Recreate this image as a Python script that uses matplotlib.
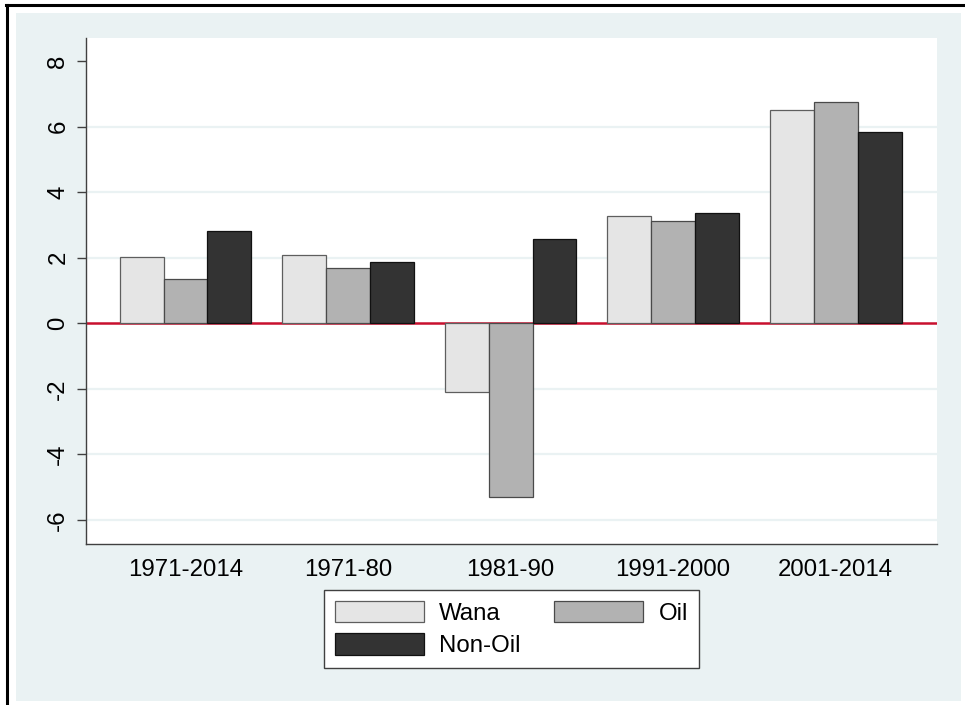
import numpy as np
import matplotlib
matplotlib.use("Agg")
import matplotlib.pyplot as plt
from matplotlib.patches import Rectangle
from matplotlib.lines import Line2D

# data
periods = ["1971-2014", "1971-80", "1981-90", "1991-2000", "2001-2014"]
wana = [2.02, 2.09, -2.09, 3.26, 6.49]
oil = [1.34, 1.68, -5.30, 3.11, 6.74]
non_oil = [2.82, 1.87, 2.56, 3.36, 5.82]
yticks = [-6, -4, -2, 0, 2, 4, 6, 8]
gridticks = [-6, -4, -2, 2, 4, 6]

W, H = 965, 705
plt.rcParams["font.family"] = ["Liberation Sans", "DejaVu Sans"]
fig = plt.figure(figsize=(W / 100, H / 100), dpi=100)
fig.patch.set_facecolor("white")

# light background panel + black frame lines (top and left)
fig.patches.append(Rectangle((16 / W, 1 - 701 / H), (961 - 16) / W, (701 - 13) / H,
                             transform=fig.transFigure, facecolor="#EAF2F3",
                             edgecolor="none", zorder=-5))
fig.lines.append(Line2D([6 / W, 1], [1 - 5 / H, 1 - 5 / H], transform=fig.transFigure,
                        color="black", lw=2.2))
fig.lines.append(Line2D([7 / W, 7 / W], [0, 1 - 5 / H], transform=fig.transFigure,
                        color="black", lw=2.2))

ax = fig.add_axes([86 / W, 1 - 544 / H, (936.5 - 86) / W, (544 - 38) / H])
ax.set_zorder(1)
ax.set_facecolor("white")

x = np.arange(len(periods))
bw = 0.27
b1 = ax.bar(x - bw, wana, bw, color="#E5E5E5", edgecolor="#5E5E5E", lw=0.9, label="Wana", zorder=3)
b2 = ax.bar(x, oil, bw, color="#B2B2B2", edgecolor="#4A4A4A", lw=0.9, label="Oil", zorder=3)
b3 = ax.bar(x + bw, non_oil, bw, color="#333333", edgecolor="#111111", lw=0.9, label="Non-Oil", zorder=3)

for g in gridticks:
    ax.axhline(g, color="#EAF2F3", lw=1.6, zorder=1)
ax.axhline(0, color="#C8102E", lw=1.8, zorder=2)

ax.set_xlim(-0.612, 4.62)
ax.set_ylim(-6.73, 8.70)
ax.set_yticks(yticks)
ax.set_yticklabels([str(t) for t in yticks], rotation=90, va="center")
ax.set_xticks(x)
ax.set_xticklabels(periods)
ax.tick_params(axis="y", length=6.5, width=1, color="#404040", labelsize=17.3, pad=5.5)
ax.tick_params(axis="x", length=0, labelsize=17.3, pad=11)

for s in ["top", "right"]:
    ax.spines[s].set_visible(False)
for s in ["left", "bottom"]:
    ax.spines[s].set_color("#404040")
    ax.spines[s].set_linewidth(1)

# order so that the rows read Wana, Oil / Non-Oil
leg = fig.legend([b1, b3, b2], ["Wana", "Non-Oil", "Oil"],
                 loc="upper left", bbox_to_anchor=(324 / W, 1 - 590 / H), ncol=2,
                 fontsize=17.3, frameon=True, fancybox=False, framealpha=1,
                 borderaxespad=0, handlelength=3.7, handleheight=1.0,
                 handletextpad=0.63, columnspacing=1.42, labelspacing=0.35,
                 borderpad=0.45)
leg.set_zorder(2)
leg.get_frame().set_edgecolor("#404040")
leg.get_frame().set_linewidth(1)

plt.savefig("out.png", dpi=100)
